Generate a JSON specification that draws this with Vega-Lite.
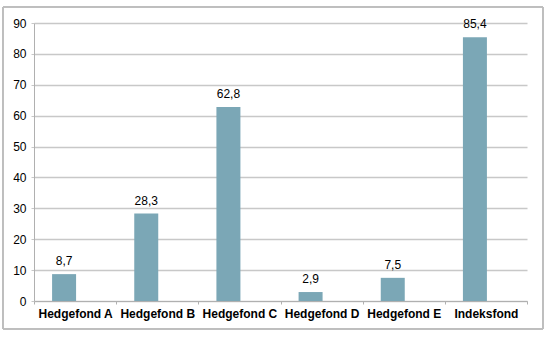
{
  "$schema": "https://vega.github.io/schema/vega-lite/v6.json",
  "autosize": {"type": "none"},
  "padding": {"left": 34, "top": 23, "right": 25, "bottom": 36},
  "width": 493,
  "height": 278,
  "background": "#ffffff",
  "data": {"values": [
    {"fond": "Hedgefond A", "verdi": 8.7},
    {"fond": "Hedgefond B", "verdi": 28.3},
    {"fond": "Hedgefond C", "verdi": 62.8},
    {"fond": "Hedgefond D", "verdi": 2.9},
    {"fond": "Hedgefond E", "verdi": 7.5},
    {"fond": "Indeksfond", "verdi": 85.4}
  ]},
  "encoding": {
    "x": {"field": "fond", "type": "nominal", "sort": null, "title": null,
      "scale": {"paddingInner": 0, "paddingOuter": 0},
      "axis": {"labelAngle": 0, "labelFont": "Liberation Sans", "labelFontSize": 12, "labelFontWeight": "bold", "labelColor": "#000000", "labelPadding": 4,
        "domainColor": "#b0b0b0", "tickColor": "#b0b0b0", "tickSize": 3, "tickBand": "extent", "grid": false}},
    "y": {"field": "verdi", "type": "quantitative", "title": null,
      "scale": {"domain": [0, 90], "nice": false},
      "axis": {"values": [0, 10, 20, 30, 40, 50, 60, 70, 80, 90], "labelFont": "Liberation Sans", "labelFontSize": 12, "labelColor": "#000000", "labelPadding": 5,
        "domainColor": "#b0b0b0", "tickColor": "#c8c8c8", "tickSize": 3, "gridColor": "#c8c8c8", "gridWidth": 1.5}}
  },
  "layer": [
    {"mark": {"type": "bar", "color": "#7ba7b6", "width": 24, "xOffset": -11}},
    {"mark": {"type": "text", "xOffset": -11, "dy": -6, "baseline": "bottom", "font": "Liberation Sans", "fontSize": 12, "color": "#000000"},
      "encoding": {"text": {"field": "verdi", "type": "quantitative", "format": ".1f"}}},
    {"mark": {"type": "rect", "fill": null, "stroke": "#bdbdbd", "strokeWidth": 1},
      "encoding": {"x": {"value": -31}, "x2": {"value": 509}, "y": {"value": -16}, "y2": {"value": 306}}}
  ],
  "config": {
    "view": {"stroke": null},
    "locale": {"number": {"decimal": ",", "thousands": ".", "grouping": [3], "currency": ["", " kr"]}}
  }
}
